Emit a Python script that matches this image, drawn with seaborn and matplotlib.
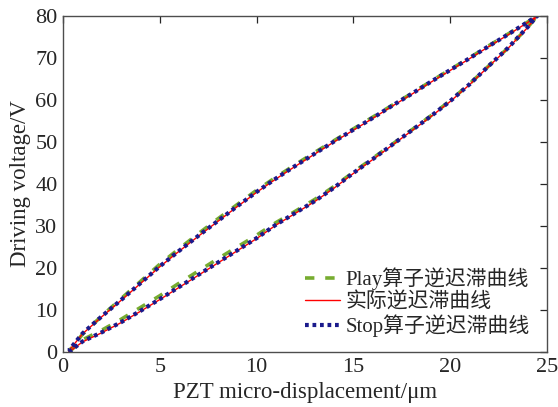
import matplotlib
matplotlib.use("Agg")
import matplotlib.pyplot as plt
import seaborn as sns
import pandas as pd

# Measured inverse hysteresis loop: displacement (um) -> driving voltage (V)
disp_rise = [0.3, 1, 2, 3, 4, 5, 6, 7, 8, 9, 10, 11, 12, 13, 14, 15, 16, 17, 18, 19, 20, 21, 22, 23, 24, 24.5]
volt_rise = [0.0, 2.4, 4.6, 7.0, 9.7, 12.5, 15.4, 18.3, 21.2, 24.1, 27.0, 30.2, 33.0, 35.8, 39.0, 42.5,
             45.8, 49.2, 52.6, 56.0, 59.6, 63.6, 68.0, 72.3, 77.2, 80.0]
disp_fall = [24.5, 24, 23, 22, 21, 20, 19, 18, 17, 16, 15, 14, 13, 12, 11, 10, 9, 8, 7, 6, 5, 4, 3, 2, 1, 0.3]
volt_fall = [80.0, 78.4, 75.5, 72.7, 69.8, 67.0, 64.2, 61.3, 58.5, 55.6, 52.8, 50.0, 47.1, 44.2, 41.2, 38.0,
             34.6, 31.1, 27.6, 24.0, 20.3, 16.3, 12.3, 8.4, 4.3, 0.3]

# Play-operator model output (same displacement grid)
play_rise = [0.0, 2.9, 5.2, 7.8, 10.6, 13.4, 16.4, 19.3, 22.2, 25.0, 27.8, 30.8, 33.5, 36.3, 39.4, 42.8,
             46.1, 49.4, 52.8, 56.2, 59.8, 63.8, 68.1, 72.4, 77.2, 80.0]
play_fall = [80.0, 78.5, 75.7, 72.9, 70.0, 67.2, 64.4, 61.5, 58.7, 55.9, 53.1, 50.3, 47.5, 44.6, 41.6, 38.5,
             35.1, 31.7, 28.2, 24.6, 20.9, 16.8, 12.7, 8.6, 4.2, 0.2]

# Stop-operator model output (same displacement grid)
stop_rise = [0.0, 2.5, 4.7, 7.1, 9.8, 12.6, 15.5, 18.4, 21.3, 24.2, 27.1, 30.3, 33.1, 35.9, 39.1, 42.6,
             45.9, 49.3, 52.7, 56.1, 59.7, 63.7, 68.1, 72.4, 77.3, 80.0]
stop_fall = [80.0, 78.5, 75.6, 72.8, 69.9, 67.1, 64.3, 61.4, 58.6, 55.7, 52.9, 50.1, 47.2, 44.3, 41.3, 38.1,
             34.7, 31.2, 27.7, 24.1, 20.4, 16.4, 12.4, 8.5, 4.4, 0.4]

labels = ["Play算子逆迟滞曲线", "实际逆迟滞曲线", "Stop算子逆迟滞曲线"]

loop_x = disp_rise + disp_fall
frames = []
for name, yv in zip(labels, [play_rise + play_fall, volt_rise + volt_fall, stop_rise + stop_fall]):
    frames.append(pd.DataFrame({"x": loop_x, "y": yv, "curve": name}))
df = pd.concat(frames, ignore_index=True)

sns.set_theme(style="white")
plt.rcParams["font.family"] = ["Liberation Serif", "Noto Sans CJK SC"]

fig = plt.figure(figsize=(5.58, 4.07), dpi=100)
ax = fig.add_axes([0.113, 0.135, 0.867, 0.826])

styles = {
    labels[0]: dict(color="#77AC30", linewidth=2.6, dashes=(2.6, 3.0)),
    labels[1]: dict(color="#FF0000", linewidth=1.0),
    labels[2]: dict(color="#1A1A8C", linewidth=3.0, dashes=(0.9, 0.9)),
}
for name in labels:
    sub = df[df["curve"] == name]
    st = styles[name]
    sns.lineplot(data=sub, x="x", y="y", sort=False, estimator=None, ax=ax, label=name,
                 color=st["color"], linewidth=st["linewidth"])
    if "dashes" in st:
        ax.lines[-1].set_dashes(st["dashes"])

ax.set_xlim(0, 25)
ax.set_ylim(0, 80)
ax.set_xticks([0, 5, 10, 15, 20, 25])
ax.set_yticks(range(0, 81, 10))
ax.tick_params(direction="in", length=5, width=0.9, top=True, right=True,
               labelsize=16, colors="#262626", pad=4)
for sp in ax.spines.values():
    sp.set_color("#4d4d4d")
    sp.set_linewidth(1.0)
ax.set_xlabel("PZT micro-displacement/μm", fontsize=16.5, color="#262626", labelpad=4)
ax.set_ylabel("Driving voltage/V", fontsize=16.5, color="#262626", labelpad=3)

handles, lbls = ax.get_legend_handles_labels()
leg = ax.legend(handles, lbls, loc="lower right", bbox_to_anchor=(0.982, 0.019), frameon=False,
                fontsize=15, handlelength=1.7, handletextpad=0.25, labelspacing=0.1,
                borderaxespad=0.0)
for t in leg.get_texts():
    t.set_color("#262626")

fig.savefig("out.png", dpi=100)
